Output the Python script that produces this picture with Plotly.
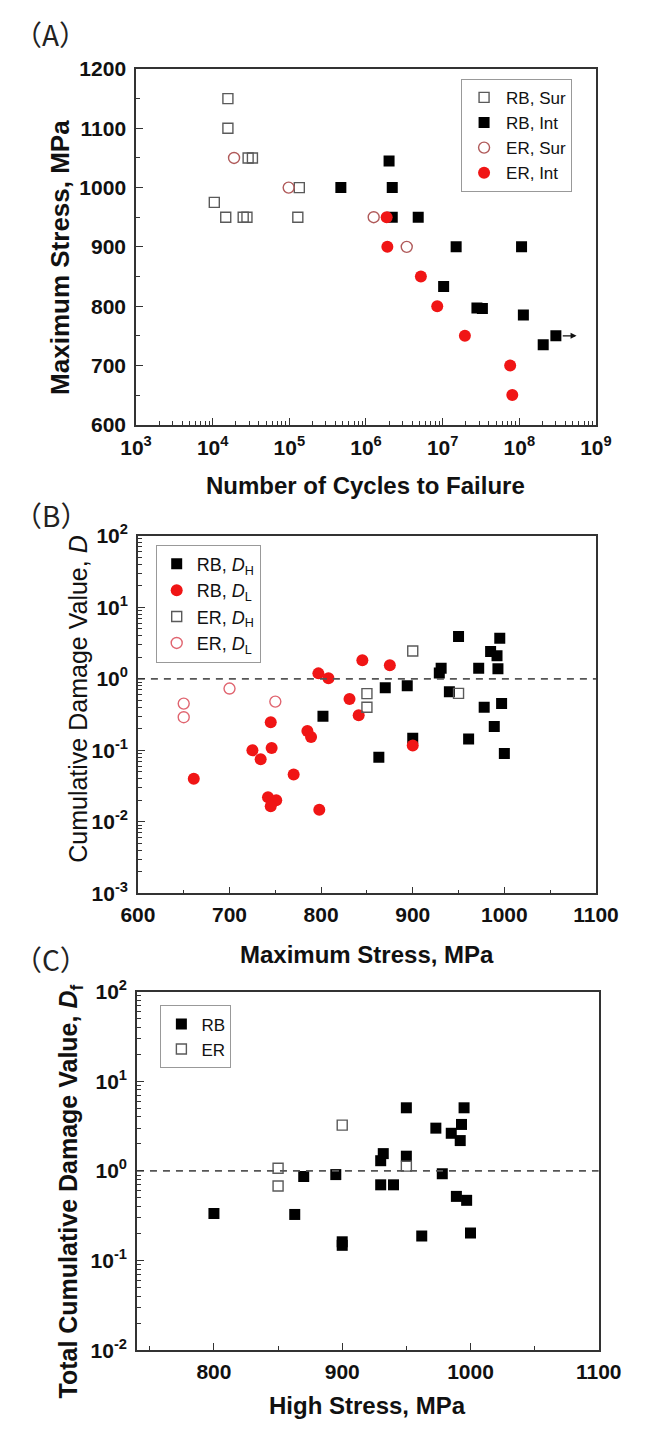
import math
import plotly.graph_objects as go

W, H = 648, 1431

# ---------------- Panel A data ----------------
rb_sur_N = [1.58e4, 1.58e4, 2.9e4, 3.3e4, 1.35e5, 1.05e4, 1.48e4, 2.5e4, 2.8e4, 1.29e5]
rb_sur_S = [1150, 1100, 1050, 1050, 1000, 975, 950, 950, 950, 950]
rb_int_N = [2.0e6, 4.7e5, 2.2e6, 2.2e6, 4.8e6, 1.5e7, 1.07e8, 1.03e7, 2.8e7, 3.3e7, 1.13e8, 2.05e8, 3.0e8]
rb_int_S = [1045, 1000, 1000, 950, 950, 900, 900, 833, 797, 796, 785, 735, 750]
er_sur_N = [1.9e4, 9.8e4, 1.26e6, 3.4e6]
er_sur_S = [1050, 1000, 950, 900]
er_int_N = [1.86e6, 1.9e6, 5.2e6, 8.5e6, 1.95e7, 7.6e7, 8.1e7]
er_int_S = [950, 900, 850, 800, 750, 700, 650]
runout_index = 12  # RB, Int run-out specimen (arrow)

# ---------------- Panel B data ----------------
rb_dh_S = [950, 995, 985, 992, 972, 993, 931, 929, 870, 894, 940, 978, 997, 802, 989, 900, 961, 1000, 863]
rb_dh_D = [3.9, 3.7, 2.4, 2.1, 1.4, 1.38, 1.4, 1.2, 0.75, 0.8, 0.66, 0.40, 0.45, 0.30, 0.216, 0.148, 0.144, 0.09, 0.08]
rb_dl_S = [845, 875, 797, 808, 831, 841, 745, 785, 789, 900, 725, 746, 734, 770, 661, 742, 751, 745, 798]
rb_dl_D = [1.81, 1.55, 1.19, 1.02, 0.52, 0.31, 0.247, 0.186, 0.153, 0.117, 0.10, 0.108, 0.075, 0.046, 0.040, 0.022, 0.020, 0.0165, 0.0148]
er_dh_S = [900, 850, 850, 950]
er_dh_D = [2.45, 0.62, 0.40, 0.625]
er_dl_S = [700, 650, 650, 750]
er_dl_D = [0.73, 0.45, 0.29, 0.48]

# ---------------- Panel C data ----------------
rb_f_S = [800, 863, 870, 895, 900, 900, 930, 930, 932, 940, 950, 950, 962, 973, 978, 985, 989, 992, 993, 995, 997, 1000]
rb_f_D = [0.336, 0.327, 0.867, 0.91, 0.162, 0.148, 0.70, 1.30, 1.56, 0.70, 5.06, 1.46, 0.188, 3.0, 0.93, 2.63, 0.52, 2.18, 3.3, 5.06, 0.47, 0.203]
er_f_S = [850, 850, 900, 950]
er_f_D = [1.07, 0.68, 3.24, 1.13]

# axis ranges / ticks
a_x_dec = [3, 4, 5, 6, 7, 8, 9]
a_y_ticks = [600, 700, 800, 900, 1000, 1100, 1200]
b_x_ticks = [600, 700, 800, 900, 1000, 1100]
b_y_dec = [-3, -2, -1, 0, 1, 2]
c_x_ticks = [800, 900, 1000, 1100]
c_x_range = [740, 1100]
c_y_dec = [-2, -1, 0, 1, 2]
damage_limit = 1.0

FONT = "Liberation Sans, Arial, sans-serif"
RED = "#f01515"
GREY_SQ = "#5a5a5a"

# panel boxes in pixels: (left, right, top, bottom)
BOX_A = (126, 617, 56, 418)
BOX_B = (128, 617, 531, 895)
BOX_C = (127, 620, 995, 1360)


def dom_x(box):
    return [box[0] / W, box[1] / W]


def dom_y(box):
    return [1 - box[3] / H, 1 - box[2] / H]


def pow_text(n):
    return "10<sup>%d</sup>" % n


def minor_log(decs):
    vals = []
    for d in decs[:-1]:
        for k in range(2, 10):
            vals.append(k * 10 ** d)
    return vals


fig = go.Figure()

# ---- Panel A traces ----
fig.add_trace(go.Scatter(x=rb_sur_N, y=rb_sur_S, mode="markers", name="RB, Sur",
                         marker=dict(symbol="square-open", size=10, color=GREY_SQ, line=dict(width=1.4)),
                         xaxis="x", yaxis="y", legend="legend"))
fig.add_trace(go.Scatter(x=rb_int_N, y=rb_int_S, mode="markers", name="RB, Int",
                         marker=dict(symbol="square", size=11, color="#000000"),
                         xaxis="x", yaxis="y", legend="legend"))
fig.add_trace(go.Scatter(x=er_sur_N, y=er_sur_S, mode="markers", name="ER, Sur",
                         marker=dict(symbol="circle-open", size=11, color="#b05a5a", line=dict(width=1.4)),
                         xaxis="x", yaxis="y", legend="legend"))
fig.add_trace(go.Scatter(x=er_int_N, y=er_int_S, mode="markers", name="ER, Int",
                         marker=dict(symbol="circle", size=12, color=RED),
                         xaxis="x", yaxis="y", legend="legend"))

# ---- Panel B traces ----
fig.add_trace(go.Scatter(x=rb_dh_S, y=rb_dh_D, mode="markers", name="RB, <i>D</i><sub>H</sub>",
                         marker=dict(symbol="square", size=11, color="#000000"),
                         xaxis="x2", yaxis="y2", legend="legend2"))
fig.add_trace(go.Scatter(x=rb_dl_S, y=rb_dl_D, mode="markers", name="RB, <i>D</i><sub>L</sub>",
                         marker=dict(symbol="circle", size=12, color=RED),
                         xaxis="x2", yaxis="y2", legend="legend2"))
fig.add_trace(go.Scatter(x=er_dh_S, y=er_dh_D, mode="markers", name="ER, <i>D</i><sub>H</sub>",
                         marker=dict(symbol="square-open", size=10, color=GREY_SQ, line=dict(width=1.4)),
                         xaxis="x2", yaxis="y2", legend="legend2"))
fig.add_trace(go.Scatter(x=er_dl_S, y=er_dl_D, mode="markers", name="ER, <i>D</i><sub>L</sub>",
                         marker=dict(symbol="circle-open", size=11, color="#e06570", line=dict(width=1.4)),
                         xaxis="x2", yaxis="y2", legend="legend2"))
fig.add_trace(go.Scatter(x=[b_x_ticks[0], b_x_ticks[-1]], y=[damage_limit, damage_limit], mode="lines",
                         line=dict(color="#555555", width=1.8, dash="7px,6px"), showlegend=False,
                         hoverinfo="skip", xaxis="x2", yaxis="y2"))

# ---- Panel C traces ----
fig.add_trace(go.Scatter(x=rb_f_S, y=rb_f_D, mode="markers", name="RB",
                         marker=dict(symbol="square", size=11, color="#000000"),
                         xaxis="x3", yaxis="y3", legend="legend3"))
fig.add_trace(go.Scatter(x=er_f_S, y=er_f_D, mode="markers", name="ER",
                         marker=dict(symbol="square-open", size=10, color=GREY_SQ, line=dict(width=1.4)),
                         xaxis="x3", yaxis="y3", legend="legend3"))
fig.add_trace(go.Scatter(x=c_x_range, y=[damage_limit, damage_limit], mode="lines",
                         line=dict(color="#555555", width=1.8, dash="7px,6px"), showlegend=False,
                         hoverinfo="skip", xaxis="x3", yaxis="y3"))

tickfont = dict(family=FONT, size=21, color="#111111", weight="bold")
axis_common = dict(showline=True, linecolor="#333333", linewidth=1.5, mirror=True,
                   ticks="inside", ticklen=7, tickwidth=1.2, tickcolor="#333333",
                   showgrid=False, zeroline=False, tickfont=tickfont)
minor_lin = lambda d: dict(dtick=d, ticks="inside", ticklen=4, tickwidth=1, tickcolor="#333333", showgrid=False)
minor_lg = lambda decs: dict(tickmode="array", tickvals=minor_log(decs), ticks="inside", ticklen=4,
                             tickwidth=1, tickcolor="#333333")

fig.update_layout(
    width=W, height=H, margin=dict(l=0, r=0, t=0, b=0),
    paper_bgcolor="white", plot_bgcolor="white",
    font=dict(family=FONT, color="#111111"),
    xaxis=dict(domain=dom_x(BOX_A), anchor="y", type="log",
               range=[a_x_dec[0], a_x_dec[-1]],
               tickmode="array", tickvals=[10 ** d for d in a_x_dec], ticktext=[pow_text(d) for d in a_x_dec],
               minor=minor_lg(a_x_dec), ticklabelstandoff=3, **axis_common),
    yaxis=dict(domain=dom_y(BOX_A), anchor="x", range=[a_y_ticks[0], a_y_ticks[-1]],
               tickmode="array", tickvals=a_y_ticks, minor=minor_lin(50), ticklabelstandoff=4,
               **axis_common),
    xaxis2=dict(domain=dom_x(BOX_B), anchor="y2", range=[b_x_ticks[0], b_x_ticks[-1]],
                tickmode="array", tickvals=b_x_ticks, minor=minor_lin(50), ticklabelstandoff=2,
                **axis_common),
    yaxis2=dict(domain=dom_y(BOX_B), anchor="x2", type="log", range=[b_y_dec[0], b_y_dec[-1]],
                tickmode="array", tickvals=[10 ** d for d in b_y_dec], ticktext=[pow_text(d) for d in b_y_dec],
                minor=minor_lg(b_y_dec), ticklabelstandoff=4, **axis_common),
    xaxis3=dict(domain=dom_x(BOX_C), anchor="y3", range=c_x_range,
                tickmode="array", tickvals=c_x_ticks, minor=minor_lin(50), ticklabelstandoff=2,
                **axis_common),
    yaxis3=dict(domain=dom_y(BOX_C), anchor="x3", type="log", range=[c_y_dec[0], c_y_dec[-1]],
                tickmode="array", tickvals=[10 ** d for d in c_y_dec], ticktext=[pow_text(d) for d in c_y_dec],
                minor=minor_lg(c_y_dec), ticklabelstandoff=4, **axis_common),
    legend=dict(x=473 / W, y=1 - 66 / H, xanchor="left", yanchor="top",
                bordercolor="#999999", borderwidth=1, bgcolor="white",
                font=dict(family=FONT, size=17, color="#111111"), itemwidth=34),
    legend2=dict(x=147 / W, y=1 - 540 / H, xanchor="left", yanchor="top",
                 bordercolor="#999999", borderwidth=1, bgcolor="white",
                 font=dict(family=FONT, size=18, color="#111111"), itemwidth=30),
    legend3=dict(x=152 / W, y=1 - 1009 / H, xanchor="left", yanchor="top",
                 bordercolor="#999999", borderwidth=1, bgcolor="white",
                 font=dict(family=FONT, size=17, color="#111111"), itemwidth=30),
)

BOLD = dict(family=FONT, size=24, color="#111111", weight="bold")

# x-axis titles
xtitles = [
    ("Number of Cycles to Failure", (BOX_A[0] + BOX_A[1]) / 2, 480, BOLD),
    ("Maximum Stress, MPa", (BOX_B[0] + BOX_B[1]) / 2, 957, BOLD),
    ("High Stress, MPa", (BOX_C[0] + BOX_C[1]) / 2, 1416, BOLD),
]
for txt, xp, yp, fnt in xtitles:
    fig.add_annotation(x=xp / W, y=1 - yp / H, xref="paper", yref="paper", text=txt, showarrow=False,
                       xanchor="center", yanchor="middle", font=fnt)

# y-axis titles (rotated)
ytitles = [
    ("Maximum Stress, MPa", 44, 248, dict(family=FONT, size=26, color="#111111", weight="bold")),
    ("Cumulative Damage Value, <i>D</i>", 64, 697, dict(family=FONT, size=25, color="#111111")),
    ("Total Cumulative Damage Value, <i>D</i><sub>f</sub>", 56, 1198,
     dict(family=FONT, size=25, color="#111111", weight="bold")),
]
for txt, xp, yp, fnt in ytitles:
    fig.add_annotation(x=xp / W, y=1 - yp / H, xref="paper", yref="paper", text=txt, showarrow=False,
                       textangle=-90, xanchor="center", yanchor="middle", font=fnt)

# run-out arrow on panel A
xr = math.log10(rb_int_N[runout_index])
fig.add_annotation(x=xr + 0.27, y=rb_int_S[runout_index], ax=xr + 0.07, ay=rb_int_S[runout_index],
                   xref="x", yref="y", axref="x", ayref="y", text="", showarrow=True,
                   arrowhead=2, arrowsize=1, arrowwidth=1.2, arrowcolor="#111111")

# panel labels
for lab, ypix in [("（A）", 20), ("（B）", 510), ("（C）", 962)]:
    fig.add_annotation(x=-6 / W, y=1 - ypix / H, xref="paper", yref="paper", text=lab, showarrow=False,
                       xanchor="left", yanchor="middle",
                       font=dict(family="Noto Sans CJK SC, Noto Sans, sans-serif", size=28, color="#222222"))

fig.write_html("out.html", config={"displayModeBar": False},
               post_script="document.body.style.margin='0px';document.body.style.overflow='hidden';")
